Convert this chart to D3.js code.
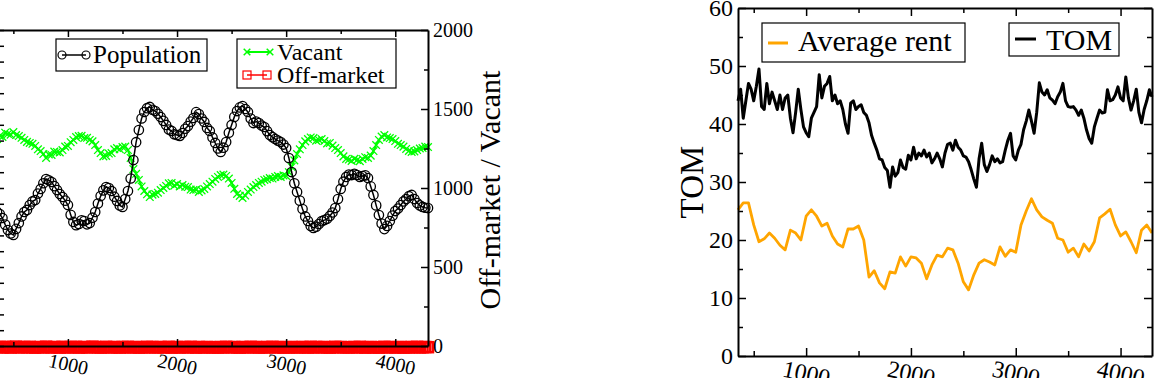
<!DOCTYPE html>
<html>
<head>
<meta charset="utf-8">
<script src="https://d3js.org/d3.v7.min.js"></script>
<style>
body { margin: 0; background: #fff; }
svg { display: block; font-family: "Liberation Serif", "DejaVu Serif", serif; }
</style>
</head>
<body>
<svg id="my_dataviz" width="1155" height="378"></svg>
<script>
// time axis (same for both panels)
var tStart = 350, tEnd = 4300;
var stepLeft = 25, stepTom = 25, stepRent = 50;

var population = [848,835,810,768,734,712,703,741,778,820,
    848,861,892,915,924,965,994,1030,1057,1049,
    1038,1012,987,962,943,920,892,830,785,765,
    772,795,791,770,778,812,848,902,949,985,
    1006,1000,981,945,918,890,880,930,981,1060,
    1177,1290,1367,1440,1481,1505,1513,1495,1487,1470,
    1449,1425,1399,1370,1361,1340,1335,1330,1348,1375,
    1392,1420,1443,1480,1468,1440,1418,1380,1361,1320,
    1285,1250,1228,1255,1291,1350,1399,1450,1487,1510,
    1519,1500,1481,1440,1411,1420,1411,1395,1386,1360,
    1335,1322,1310,1300,1291,1275,1253,1190,1101,1030,
    975,920,867,820,791,760,747,755,772,790,
    797,805,823,845,873,930,994,1040,1070,1085,
    1082,1090,1082,1070,1076,1080,1063,1010,956,890,
    829,775,740,760,791,825,854,870,892,915,
    930,948,956,930,905,890,880,875,873];

var vacant = [1310,1330,1323,1350,1342,1338,1354,1335,1329,1318,
    1304,1292,1285,1280,1266,1245,1234,1215,1190,1212,
    1209,1230,1228,1225,1240,1262,1266,1290,1304,1322,
    1329,1330,1316,1318,1304,1295,1272,1240,1221,1200,
    1203,1218,1221,1245,1253,1245,1259,1262,1240,1190,
    1120,1090,1051,1010,981,960,943,958,962,970,
    987,1000,1013,1030,1032,1015,1025,1010,1019,1008,
    1006,990,987,990,975,985,994,1010,1025,1040,
    1057,1070,1082,1085,1076,1060,1032,995,962,950,
    937,952,975,990,1006,1018,1032,1040,1051,1055,
    1063,1060,1070,1075,1070,1080,1076,1100,1133,1175,
    1215,1245,1272,1295,1310,1320,1316,1300,1304,1310,
    1297,1282,1285,1268,1253,1240,1221,1200,1184,1180,
    1171,1185,1177,1170,1184,1195,1190,1205,1234,1272,
    1304,1325,1335,1320,1316,1310,1297,1280,1272,1262,
    1247,1235,1228,1232,1240,1250,1253,1262,1259];

var offMarket = [2,3,1,4,2,0,3,5,2,1,
    3,2,4,1,0,2,3,1,5,2,
    1,3,2,0,4,2,1,3,2,4,
    0,2,3,1,2,5,3,1,0,2,
    4,2,1,3,2,0,3,2,4,1,
    2,3,0,2,1,4,2,3,1,2,
    3,1,2,4,0,2,3,1,2,3,
    1,4,2,0,3,2,1,3,2,1,
    2,0,3,1,4,2,2,3,1,0,
    3,2,1,4,2,3,0,2,1,3,
    2,4,1,2,3,0,2,1,3,2,
    1,2,3,2,0,4,1,3,2,2,
    3,1,0,2,4,2,3,1,2,1,
    2,3,1,4,2,0,2,3,1,2,
    0,2,4,1,3,2,1,2,3,0,
    2,1,3,2,4,1,2,3,2];

var averageRent = [25.2,26.4,26.4,22.6,19.7,20.2,21.2,20.3,19.1,18.3,
    21.7,21.2,20.0,24.1,25.2,24.1,22.4,22.9,20.7,19.3,
    18.8,21.9,21.9,22.4,20.0,13.6,14.7,12.6,11.6,14.5,
    14.3,17.1,15.5,17.1,16.9,16.0,13.3,15.7,17.4,17.1,
    18.6,18.3,16.0,12.8,11.4,14.0,16.0,16.6,16.2,15.7,
    18.8,17.2,18.3,17.9,22.6,25.0,27.1,25.2,24.0,23.4,
    22.9,20.3,20.0,17.9,18.6,17.1,19.3,18.1,19.7,23.8,
    24.5,25.3,22.6,20.7,21.4,19.7,17.8,21.7,22.6,21.2];

var tom = [44,46,41,44,47,46,44,46.5,49.5,43,
    42.5,47,43.5,45.5,44,42.5,45,42.5,44.5,45,
    41,38.5,42,46,42.5,39.5,38.5,37.8,41,42,
    43,48.5,44.5,46.5,47,48.2,44,45,43.5,44,
    42.5,40,38.4,43.6,44,42.5,43,43.3,42,41.5,
    40.2,38,36.7,35.5,34,33.8,32.5,32,29.1,32.6,
    31,31.6,33.8,32.5,32.2,34.6,33.8,36,34,35,
    34.5,35.5,34.3,35,33.3,34,35,34,32.6,35,
    36.5,36.7,35.5,37.2,36,35.5,34.5,34.3,33.5,32.1,
    30.5,29.1,34,36.7,33,31.8,33,34.5,33.5,34,
    33.3,33.5,35.5,37.2,38.4,34.5,33.8,35.5,36.5,39,
    40.5,42.4,40.5,38.4,42,47.1,45.5,45,45.9,44.5,
    44.1,43.5,44.7,45.5,47,44,43,42.9,43,42.4,
    41.5,42.4,41,39,37.5,36.7,39.5,41,42.4,41.9,
    42,45.9,44,44.2,45,46.4,44.5,44,48.1,44.5,
    42.4,44,46,42,40.2,42.5,44,45.9,44.7];

var xTicks = [500,1000,1500,2000,2500,3000,3500,4000];
var marketTicks = [0,250,500,750,1000,1250,1500,1750,2000];
var popTicks = d3.range(0, 2001, 100);
var tomTicks = [0,5,10,15,20,25,30,35,40,45,50,55,60];

var svg = d3.select("svg");

// ---------- left panel ----------
var x1 = d3.scaleLinear().domain([tStart, tEnd]).range([-3, 428]);
var yPop = d3.scaleLinear().domain([0, 2000]).range([346, 30]);
var yMkt = d3.scaleLinear().domain([0, 2000]).range([346, 30]);

var g1 = svg.append("g");

// off-market (red squares on zero)
var offPts = offMarket.map(function (v, i) { return [tStart + i * stepLeft, v]; });
g1.append("path")
    .attr("d", d3.line().x(d => x1(d[0])).y(d => yMkt(d[1]))(offPts))
    .attr("fill", "none").attr("stroke", "#ff0000").attr("stroke-width", 2);
g1.selectAll("rect.off").data(offPts).enter().append("rect")
    .attr("x", d => x1(d[0]) - 5).attr("y", d => yMkt(d[1]) - 3.5)
    .attr("width", 10).attr("height", 10)
    .attr("fill", "none").attr("stroke", "#ff0000").attr("stroke-width", 2.5);

// vacant (green x)
var vacPts = vacant.map(function (v, i) { return [tStart + i * stepLeft, v]; });
g1.append("path")
    .attr("d", d3.line().x(d => x1(d[0])).y(d => yMkt(d[1]))(vacPts))
    .attr("fill", "none").attr("stroke", "#00ff00").attr("stroke-width", 2);
g1.selectAll("path.vx").data(vacPts).enter().append("path")
    .attr("d", d3.symbol().type(d3.symbolX).size(40))
    .attr("transform", d => "translate(" + x1(d[0]) + "," + yMkt(d[1]) + ")")
    .attr("fill", "none").attr("stroke", "#00ff00").attr("stroke-width", 1.3);

// population (black circles)
var popPts = population.map(function (v, i) { return [tStart + i * stepLeft, v]; });
g1.append("path")
    .attr("d", d3.line().x(d => x1(d[0])).y(d => yPop(d[1]))(popPts))
    .attr("fill", "none").attr("stroke", "#000").attr("stroke-width", 1.5);
g1.selectAll("circle").data(popPts).enter().append("circle")
    .attr("cx", d => x1(d[0])).attr("cy", d => yPop(d[1])).attr("r", 4.7)
    .attr("fill", "none").attr("stroke", "#000").attr("stroke-width", 1.3);

// axes
var bot1 = g1.append("g").attr("transform", "translate(0,346)")
    .call(d3.axisBottom(x1).tickValues(xTicks).tickSize(-7).tickSizeOuter(0)
        .tickFormat(d => d % 1000 === 0 ? d : ""));
var top1 = g1.append("g").attr("transform", "translate(0,30)")
    .call(d3.axisTop(x1).tickValues(xTicks).tickSize(-7).tickSizeOuter(0).tickFormat(""));
var left1 = g1.append("g").attr("transform", "translate(-3,0)")
    .call(d3.axisLeft(yPop).tickValues(popTicks).tickSize(-7).tickSizeOuter(0).tickFormat(""));
var right1 = g1.append("g").attr("transform", "translate(428,0)")
    .call(d3.axisRight(yMkt).tickValues(marketTicks).tickSize(-7).tickSizeOuter(0).tickPadding(5)
        .tickFormat(d => d % 500 === 0 ? d : ""));

bot1.selectAll(".tick line").attr("y2", d => d % 1000 ? -4 : -7);
top1.selectAll(".tick line").attr("y2", d => d % 1000 ? 4 : 7);
right1.selectAll(".tick line").attr("x2", d => d % 500 ? -4 : -7);
bot1.selectAll(".tick text")
    .attr("y", 0).attr("dy", "0.35em")
    .attr("transform", "translate(0,18) rotate(12)");

g1.selectAll(".domain").attr("stroke-width", 2);
g1.selectAll(".tick line").attr("stroke-width", 1.5);
g1.selectAll(".tick text").attr("font-family", "Liberation Serif").attr("font-size", 20).attr("fill", "#000");

g1.append("text")
    .attr("transform", "translate(500,190) rotate(-90)")
    .attr("text-anchor", "middle")
    .attr("font-size", 30)
    .text("Off-market / Vacant");

// legends
g1.append("rect").attr("x", 56).attr("y", 39).attr("width", 151).attr("height", 32)
    .attr("fill", "#fff").attr("stroke", "#000").attr("stroke-width", 1.2);
g1.append("line").attr("x1", 62).attr("x2", 86).attr("y1", 55).attr("y2", 55)
    .attr("stroke", "#000").attr("stroke-width", 1.5);
g1.selectAll("circle.lg").data([62, 86]).enter().append("circle")
    .attr("cx", d => d).attr("cy", 55).attr("r", 4)
    .attr("fill", "none").attr("stroke", "#000").attr("stroke-width", 1.2);
g1.append("text").attr("x", 93).attr("y", 63).attr("font-size", 25).text("Population");

g1.append("rect").attr("x", 237).attr("y", 39).attr("width", 159).attr("height", 49)
    .attr("fill", "#fff").attr("stroke", "#000").attr("stroke-width", 1.2);
g1.append("line").attr("x1", 247).attr("x2", 270).attr("y1", 52).attr("y2", 52)
    .attr("stroke", "#00ff00").attr("stroke-width", 2);
g1.selectAll("path.lgx").data([247, 270]).enter().append("path")
    .attr("d", d3.symbol().type(d3.symbolX).size(30))
    .attr("transform", d => "translate(" + d + ",52)")
    .attr("fill", "none").attr("stroke", "#00ff00").attr("stroke-width", 1.5);
g1.append("text").attr("x", 277).attr("y", 60).attr("font-size", 24).text("Vacant");
g1.append("line").attr("x1", 247).attr("x2", 267).attr("y1", 75).attr("y2", 75)
    .attr("stroke", "#ff0000").attr("stroke-width", 1.5);
g1.selectAll("rect.lgs").data([247, 267]).enter().append("rect")
    .attr("x", d => d - 4).attr("y", 71).attr("width", 8).attr("height", 8)
    .attr("fill", "none").attr("stroke", "#ff0000").attr("stroke-width", 1.2);
g1.append("text").attr("x", 277).attr("y", 83).attr("font-size", 24).text("Off-market");

// ---------- right panel ----------
var x2 = d3.scaleLinear().domain([tStart, tEnd]).range([738, 1152]);
var y2 = d3.scaleLinear().domain([0, 60]).range([356, 8]);
var g2 = svg.append("g");

var rentPts = averageRent.map(function (v, i) { return [tStart + i * stepRent, v]; });
var tomPts = tom.map(function (v, i) { return [tStart + i * stepTom, v]; });

g2.append("path")
    .attr("d", d3.line().x(d => x2(d[0])).y(d => y2(d[1]))(rentPts))
    .attr("fill", "none").attr("stroke", "#ffa500").attr("stroke-width", 2.8)
    .attr("stroke-linejoin", "round");
g2.append("path")
    .attr("d", d3.line().x(d => x2(d[0])).y(d => y2(d[1]))(tomPts))
    .attr("fill", "none").attr("stroke", "#000").attr("stroke-width", 3)
    .attr("stroke-linejoin", "round");

var bot2 = g2.append("g").attr("transform", "translate(0,356)")
    .call(d3.axisBottom(x2).tickValues(xTicks).tickSize(-8).tickSizeOuter(0)
        .tickFormat(d => d % 1000 === 0 ? d : ""));
var top2 = g2.append("g").attr("transform", "translate(0,8)")
    .call(d3.axisTop(x2).tickValues(xTicks).tickSize(-8).tickSizeOuter(0).tickFormat(""));
var left2 = g2.append("g").attr("transform", "translate(738,0)")
    .call(d3.axisLeft(y2).tickValues(tomTicks).tickSize(-8).tickSizeOuter(0).tickPadding(5)
        .tickFormat(d => d % 10 === 0 ? d : ""));
var right2 = g2.append("g").attr("transform", "translate(1152,0)")
    .call(d3.axisRight(y2).tickValues(tomTicks).tickSize(-8).tickSizeOuter(0).tickFormat(""));

bot2.selectAll(".tick line").attr("y2", d => d % 1000 ? -5 : -8);
top2.selectAll(".tick line").attr("y2", d => d % 1000 ? 5 : 8);
left2.selectAll(".tick line").attr("x2", d => d % 10 ? 5 : 8);
right2.selectAll(".tick line").attr("x2", d => d % 10 ? -5 : -8);
bot2.selectAll(".tick text")
    .attr("y", 0).attr("dy", "0.35em")
    .attr("transform", "translate(0,17) rotate(12)");

g2.selectAll(".domain").attr("stroke-width", 2);
g2.selectAll(".tick line").attr("stroke-width", 1.5);
g2.selectAll(".tick text").attr("font-family", "Liberation Serif").attr("font-size", 24).attr("fill", "#000");

g2.append("text")
    .attr("transform", "translate(703,182) rotate(-90)")
    .attr("text-anchor", "middle")
    .attr("font-size", 33)
    .text("TOM");

g2.append("rect").attr("x", 762).attr("y", 23).attr("width", 203).attr("height", 39)
    .attr("fill", "#fff").attr("stroke", "#000").attr("stroke-width", 1.2);
g2.append("line").attr("x1", 768).attr("x2", 788).attr("y1", 43).attr("y2", 43)
    .attr("stroke", "#ffa500").attr("stroke-width", 3);
g2.append("text").attr("x", 798).attr("y", 51).attr("font-size", 30).text("Average rent");

g2.append("rect").attr("x", 1009).attr("y", 23).attr("width", 110).attr("height", 33)
    .attr("fill", "#fff").attr("stroke", "#000").attr("stroke-width", 1.2);
g2.append("line").attr("x1", 1015).attr("x2", 1036).attr("y1", 39).attr("y2", 39)
    .attr("stroke", "#000").attr("stroke-width", 3);
g2.append("text").attr("x", 1046).attr("y", 50).attr("font-size", 30).text("TOM");
</script>
</body>
</html>
